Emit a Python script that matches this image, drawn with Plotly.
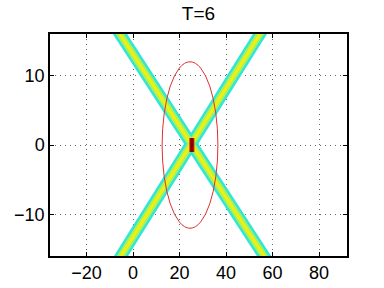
import plotly.graph_objects as go

# Arms of the X, extended a little past the axes so they are clipped
arm1_y = [18, -18]
arm1_x = [-9.5, 60.2]
arm2_y = [-18, 18]
arm2_x = [-8.9, 58.3]

# Hot spot at the crossing
spot_x = [25.3, 25.3]
spot_y = [-1.0, 1.0]

# Red circle (data units)
circ_cx, circ_cy, circ_r = 24.5, 0.0, 12.0

x_ticks = [-20, 0, 20, 40, 60, 80]
y_ticks = [-10, 0, 10]

fig = go.Figure()

layers = [("#2fe6d8", 12), ("#a8f25a", 7), ("#f0f010", 3)]
for color, w in layers:
    for xs, ys in ((arm1_x, arm1_y), (arm2_x, arm2_y)):
        fig.add_trace(go.Scatter(x=xs, y=ys, mode="lines",
                                 line=dict(color=color, width=w),
                                 hoverinfo="skip", showlegend=False))

fig.add_trace(go.Scatter(x=spot_x, y=spot_y, mode="lines",
                         line=dict(color="#e01010", width=5),
                         hoverinfo="skip", showlegend=False))
fig.add_trace(go.Scatter(x=spot_x, y=spot_y, mode="lines",
                         line=dict(color="#7a0000", width=3),
                         hoverinfo="skip", showlegend=False))

fig.add_shape(type="circle", xref="x", yref="y",
              x0=circ_cx - circ_r, x1=circ_cx + circ_r,
              y0=circ_cy - circ_r, y1=circ_cy + circ_r,
              line=dict(color="#e03030", width=1))

axis_common = dict(showline=True, linecolor="black", linewidth=1.5, mirror="ticks",
                   ticks="inside", ticklen=4, tickcolor="black",
                   showgrid=True, gridcolor="#666666", griddash="1px,4px", gridwidth=1,
                   zeroline=False, automargin=False,
                   tickfont=dict(size=18, color="black"))

fig.update_layout(
    width=384, height=288,
    margin=dict(l=50, r=37, t=34, b=32),
    paper_bgcolor="white", plot_bgcolor="white",
    font=dict(family="Liberation Sans, Arial, sans-serif", color="black"),
    title=dict(text="T=6", xref="paper", x=0.5, xanchor="center",
               yref="container", y=0.953, yanchor="middle",
               font=dict(size=19, color="black")),
    xaxis=dict(range=[-35.7, 92], tickvals=x_ticks, **axis_common),
    yaxis=dict(range=[-16, 16], tickvals=y_ticks, **axis_common),
)

fig.write_html("out.html", config={"displayModeBar": False},
               post_script="document.body.style.margin='0';document.body.style.overflow='hidden';")
